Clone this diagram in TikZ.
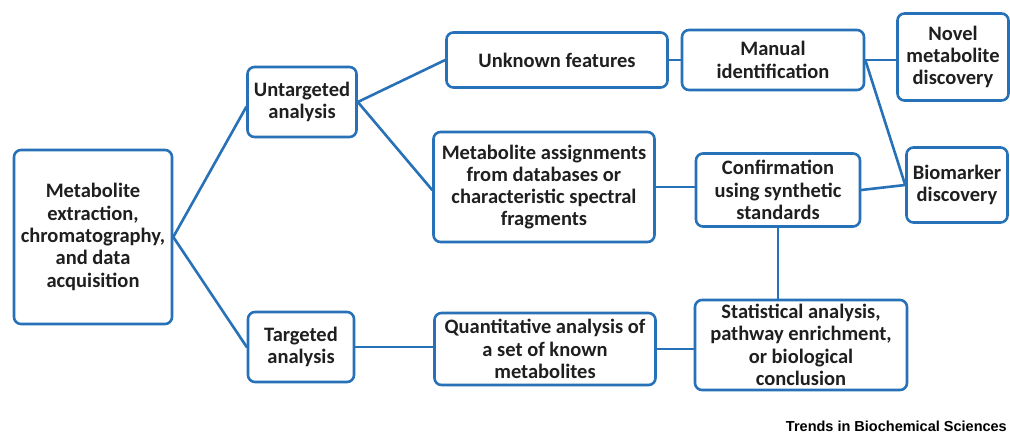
\documentclass[tikz,border=0pt]{standalone}
\usepackage{fontspec}
\setmainfont{Carlito}
\newfontfamily\footfont{Liberation Sans}
\definecolor{flowblue}{RGB}{38,113,183}
\tikzset{
  stagebox/.style={draw=flowblue, line width=2.6pt, rounded corners=7pt, fill=white,
    align=center, inner sep=0pt, font=\bfseries\fontsize{20.5}{22.3}\selectfont,
    text=black!88},
  boxsize/.style 2 args={minimum width=#1pt, minimum height=#2pt},
  link/.style={draw=flowblue, line width=2.6pt, line cap=round}
}
\begin{document}
\begin{tikzpicture}[x=1pt, y=-1pt]
\useasboundingbox[fill=white] (0,0) rectangle (1010,434);
% Boxes
\node[stagebox, boxsize={158}{174}] (acq) at (93,237) {Metabolite\\extraction,\\chromatography,\\and data\\acquisition};
\node[stagebox, boxsize={109}{70}] (untar) at (302,102) {Untargeted\\analysis};
\node[stagebox, boxsize={106}{70}] (tar) at (301,347) {Targeted\\analysis};
\node[stagebox, boxsize={221}{55}] (unknown) at (557,60) {Unknown features};
\node[stagebox, boxsize={221}{110}] (assign) at (544,187) {Metabolite assignments\\from databases or\\characteristic spectral\\fragments};
\node[stagebox, boxsize={221}{72}] (quant) at (545,349) {Quantitative analysis of\\a set of known\\metabolites};
\node[stagebox, boxsize={182}{60}] (manual) at (773,60) {Manual\\identification};
\node[stagebox, boxsize={164}{73}] (confirm) at (778,190) {Confirmation\\using synthetic\\standards};
\node[stagebox, boxsize={212}{90}] (stats) at (801,345) {Statistical analysis,\\pathway enrichment,\\or biological\\conclusion};
\node[stagebox, boxsize={111}{87}] (novel) at (953,57) {Novel\\metabolite\\discovery};
\node[stagebox, boxsize={101}{75}] (biomark) at (957,185) {Biomarker\\discovery};
% Connectors
\draw[link] (acq.east) -- ([yshift=-5pt]untar.west);
\draw[link] (acq.east) -- (tar.west);
\draw[link] (untar.east) -- (unknown.west);
\draw[link] (untar.east) -- ([yshift=-3pt]assign.west);
\draw[link] (tar.east) -- (quant.west |- tar.east);
\draw[link] (unknown.east) -- (manual.west);
\draw[link] (manual.east) -- (novel.west |- manual.east);
\draw[link] (manual.east) -- (biomark.west);
\draw[link] (assign.east) -- (confirm.west |- assign.east);
\draw[link] (confirm.east) -- (biomark.west);
\draw[link] (confirm.south) -- (confirm.south |- stats.north);
\draw[link] (quant.east) -- (stats.west |- quant.east);
% Footer
\node[anchor=base east, inner sep=0pt, font=\footfont\bfseries\fontsize{14.5}{16}\selectfont] (credit) at (1007,431) {Trends in Biochemical Sciences};
\end{tikzpicture}
\end{document}
